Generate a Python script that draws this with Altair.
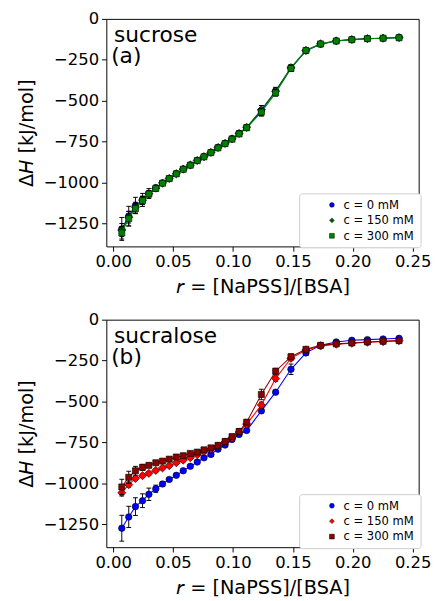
import altair as alt
import pandas as pd

# ---------------- data ----------------
r = [0.0072, 0.0130, 0.0186, 0.0245, 0.0298, 0.0356, 0.0412, 0.0468, 0.0527,
     0.0585, 0.0644, 0.0702, 0.0758, 0.0816, 0.0875, 0.0934, 0.0992, 0.1051,
     0.1114, 0.1237, 0.1356, 0.1484, 0.1609, 0.1731, 0.1862, 0.1992, 0.2122,
     0.2253, 0.2386]

series_labels = ["c = 0 mM", "c = 150 mM", "c = 300 mM"]

# sucrose (a)
suc0 = [-1283, -1205, -1140, -1106, -1067, -1033, -1002, -974, -945, -917, -892,
        -864, -841, -815, -785, -760, -732, -699, -665, -560, -440, -300, -195,
        -155, -135, -126, -121, -118, -114]
suc0_err = [70, 60, 50, 40, 30, 18, 12, 10, 8, 8, 8, 8, 8, 10, 12, 12, 16, 16,
            16, 30, 22, 20, 12, 8, 6, 6, 6, 6, 6]
suc150 = [-1290, -1212, -1150, -1108, -1068, -1034, -1003, -975, -946, -918, -893,
          -865, -842, -816, -786, -761, -733, -700, -662, -555, -442, -298, -192,
          -152, -134, -126, -120, -118, -114]
suc150_err = [40, 35, 30, 25, 18, 14, 10, 8, 8, 8, 8, 8, 8, 10, 12, 12, 14, 14,
              14, 26, 20, 18, 10, 8, 6, 6, 6, 6, 6]
suc300 = [-1307, -1220, -1159, -1110, -1070, -1036, -1004, -976, -947, -919, -894,
          -866, -843, -817, -788, -762, -735, -703, -665, -570, -452, -303, -193,
          -153, -135, -127, -121, -118, -115]
suc300_err = [38, 45, 30, 25, 18, 14, 10, 8, 8, 8, 8, 8, 8, 10, 12, 12, 14, 14,
              14, 24, 20, 18, 10, 8, 6, 6, 6, 6, 6]

# sucralose (b)
b0 = [-1274, -1205, -1142, -1106, -1067, -1033, -1004, -976, -951, -923, -896,
      -870, -844, -823, -791, -766, -732, -701, -677, -557, -443, -303, -203,
      -157, -136, -126, -122, -118, -114]
b0_err = [79, 65, 54, 42, 38, 22, 12, 10, 8, 8, 8, 8, 8, 8, 8, 10, 10, 10, 10,
          14, 14, 32, 16, 8, 6, 6, 6, 6, 6]
b150 = [-1057, -1008, -970, -953, -939, -921, -906, -892, -874, -858, -843, -825,
        -805, -791, -772, -748, -722, -687, -638, -522, -360, -236, -185, -161,
        -150, -144, -138, -134, -128]
b150_err = [20, 15, 12, 10, 10, 10, 10, 10, 10, 10, 10, 10, 10, 10, 10, 12, 12,
            14, 14, 18, 16, 14, 10, 8, 6, 6, 6, 6, 6]
b300 = [-1022, -963, -923, -902, -890, -874, -864, -852, -839, -831, -817, -809,
        -795, -783, -768, -744, -715, -683, -626, -457, -315, -226, -181, -157,
        -148, -142, -136, -132, -128]
b300_err = [47, 37, 27, 18, 14, 12, 12, 12, 12, 12, 12, 12, 14, 14, 14, 16, 16,
            18, 16, 32, 18, 16, 12, 8, 6, 6, 6, 6, 6]

suc_colors = ["#0000ff", "#006400", "#008000"]
sucl_colors = ["#0000ff", "#ff0000", "#8b0000"]
shapes = ["circle", "diamond", "square"]
marker_sizes = [46, 72, 40]

x_ticks = [0.0, 0.05, 0.10, 0.15, 0.20, 0.25]
y_ticks = [0, -250, -500, -750, -1000, -1250]

x_title = "\U0001D633 = [NaPSS]/[BSA]"
y_title = "Δ\U0001D60F [kJ/mol]"

FONT = "DejaVu Sans"
W, H = 324, 236


def panel(name, tag, ys, errs, colors):
    rows = []
    for lab, yv, ev in zip(series_labels, ys, errs):
        for xi, yi, ei in zip(r, yv, ev):
            rows.append({"r": xi, "dH": yi, "lo": yi - ei, "hi": yi + ei, "series": lab})
    df = pd.DataFrame(rows)

    xscale = alt.Scale(domain=[-0.0057, 0.255], nice=False, zero=False)
    yscale = alt.Scale(domain=[-1390, 0], nice=False, zero=False)
    xaxis = alt.Axis(values=x_ticks, format=".2f", title=x_title)
    yaxis = alt.Axis(values=y_ticks, format="d", title=y_title)

    def X(f):
        return alt.X(f, scale=xscale, axis=xaxis)

    def Y(f):
        return alt.Y(f, scale=yscale, axis=yaxis)

    legend = alt.Legend(title=None, orient="none", legendX=200, legendY=181)

    base = alt.Chart(df)
    layers = []
    for lab, col, msize in zip(series_labels, colors, marker_sizes):
        b = base.transform_filter(alt.datum.series == lab)
        layers.append(b.mark_rule(color="black", strokeWidth=1).encode(
            x=X("r:Q"), y=Y("lo:Q"), y2="hi:Q"))
        layers.append(b.mark_tick(orient="horizontal", size=5, thickness=1,
                                  color="black", opacity=1).encode(x=X("r:Q"), y=Y("lo:Q")))
        layers.append(b.mark_tick(orient="horizontal", size=5, thickness=1,
                                  color="black", opacity=1).encode(x=X("r:Q"), y=Y("hi:Q")))
        layers.append(b.mark_line(color=col, strokeWidth=1.1).encode(
            x=X("r:Q"), y=Y("dH:Q")))
        layers.append(b.mark_point(filled=True, stroke="black", strokeWidth=0.6,
                                   opacity=1, size=msize).encode(
            x=X("r:Q"), y=Y("dH:Q"),
            color=alt.Color("series:N",
                            scale=alt.Scale(domain=series_labels, range=colors),
                            legend=legend),
            shape=alt.Shape("series:N",
                            scale=alt.Scale(domain=series_labels, range=shapes),
                            legend=legend),
        ))

    lab_df = pd.DataFrame({"t": [name, tag], "k": [0, 1]})
    layers.append(alt.Chart(lab_df).mark_text(
        align="left", baseline="alphabetic", fontSize=22.5, font=FONT, color="black"
    ).encode(x=alt.value(8), y=alt.value(24), text="t:N").transform_filter(
        alt.datum.k == 0))
    layers.append(alt.Chart(lab_df).mark_text(
        align="left", baseline="alphabetic", fontSize=22.5, font=FONT, color="black"
    ).encode(x=alt.value(5), y=alt.value(46), text="t:N").transform_filter(
        alt.datum.k == 1))

    return alt.layer(*layers).properties(width=W, height=H)


top = panel("sucrose", "(a)", [suc0, suc150, suc300],
            [suc0_err, suc150_err, suc300_err], suc_colors)
bottom = panel("sucralose", "(b)", [b0, b150, b300],
               [b0_err, b150_err, b300_err], sucl_colors)

chart = alt.vconcat(top, bottom, spacing=13).resolve_scale(
    color="independent", shape="independent"
).properties(
    padding={"left": 8, "top": -10, "right": 5, "bottom": 5}
).configure_view(
    stroke="black", strokeWidth=1
).configure_axis(
    domain=False, grid=False, ticks=True, tickColor="black", tickSize=5,
    tickWidth=1, labelFont=FONT, labelFontSize=17, labelColor="black",
    labelPadding=3, titleFont=FONT, titleFontSize=20, titleColor="black",
    titleFontWeight="normal",
).configure_axisY(titlePadding=7).configure_axisX(titlePadding=8).configure_legend(
    fillColor="white", strokeColor="#cccccc", cornerRadius=3, padding=6,
    labelFont=FONT, labelFontSize=12, labelColor="black", symbolSize=25,
    symbolStrokeColor="black", symbolStrokeWidth=0.5, rowPadding=4,
    labelOffset=6, symbolOffset=22,
)

chart.save("out.html", embed_options={"renderer": "svg", "actions": False})
